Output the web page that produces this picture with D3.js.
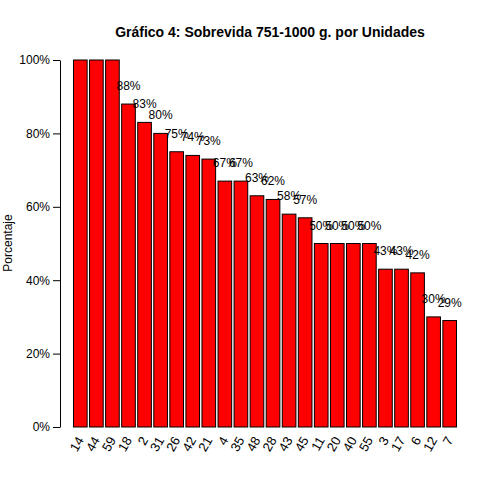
<!DOCTYPE html>
<html><head><meta charset="utf-8">
<script src="https://cdn.jsdelivr.net/npm/d3@7"></script>
<style>body{margin:0}text{font-family:"Liberation Sans",Arial,sans-serif}</style>
</head><body><div id="chart"></div>
<script>
const categories = ["14","44","59","18","2","31","26","42","21","4","35","48","28","43","45","11","20","40","55","3","17","6","12","7"];
const values = [100,100,100,88,83,80,75,74,73,67,67,63,62,58,57,50,50,50,50,43,43,42,30,29];
const yTicks = [0,20,40,60,80,100];

const width = 500, height = 500;
const svg = d3.select("#chart").append("svg").attr("width", width).attr("height", height);

const data = categories.map((c, i) => ({ c, v: values[i] }));

const x = d3.scaleBand().domain(categories).range([73, 457]).paddingInner(0.15).paddingOuter(0.03);
const y = d3.scaleLinear().domain([0, 100]).range([427, 60]);

svg.append("text").attr("x", 270).attr("y", 37).attr("text-anchor", "middle")
  .attr("font-size", 14).attr("font-weight", "bold").text("Gráfico 4: Sobrevida 751-1000 g. por Unidades");

svg.append("text").attr("transform", "translate(12,243) rotate(-90)").attr("text-anchor", "middle")
  .attr("font-size", 12).text("Porcentaje");

const yAxis = svg.append("g").attr("transform", "translate(60,0)")
  .call(d3.axisLeft(y).tickValues(yTicks).tickFormat(d => d + "%").tickSize(7).tickSizeOuter(0));
yAxis.select(".domain").attr("stroke", "#000");
yAxis.selectAll("text").attr("font-size", 12).attr("fill", "#000");

svg.selectAll(".bar").data(data).enter().append("rect")
  .attr("x", d => x(d.c))
  .attr("y", d => y(d.v))
  .attr("width", x.bandwidth())
  .attr("height", d => y(0) - y(d.v))
  .attr("fill", "#ff0000").attr("stroke", "#000").attr("stroke-width", 1);

svg.selectAll(".lbl").data(data.filter(d => d.v < 100)).enter().append("text")
  .attr("x", d => x(d.c) + x.bandwidth() / 2)
  .attr("y", d => y(d.v) - 14)
  .attr("text-anchor", "middle").attr("font-size", 12).text(d => d.v + "%");

svg.selectAll(".xl").data(categories).enter().append("text")
  .attr("transform", d => `translate(${x(d) + x.bandwidth() / 2 + 4},440) rotate(-60)`)
  .attr("text-anchor", "end").attr("font-size", 13).text(d => d);
</script></body></html>
